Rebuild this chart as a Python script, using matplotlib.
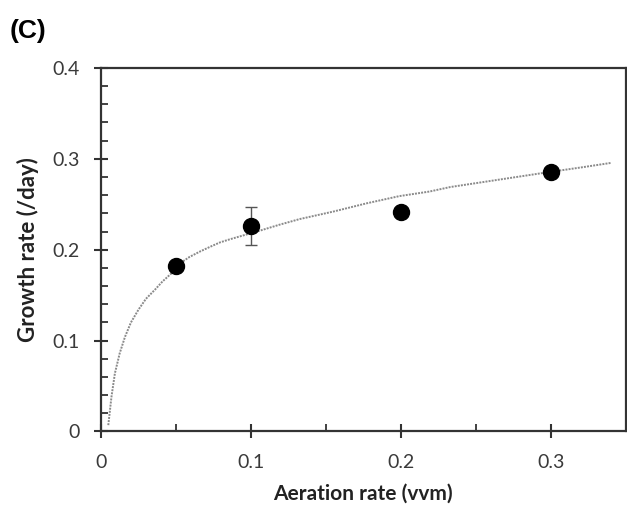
import matplotlib
matplotlib.use("Agg")
import matplotlib.pyplot as plt
from matplotlib.ticker import MultipleLocator

# measured points
aeration = [0.05, 0.1, 0.2, 0.3]
growth = [0.182, 0.226, 0.242, 0.285]
growth_err = [0, 0.021, 0, 0]

# fitted trend line
fit_x = [0.0049, 0.0070, 0.0093, 0.0125, 0.016, 0.020, 0.025, 0.030, 0.036,
         0.041, 0.047, 0.0527, 0.059, 0.066, 0.0725, 0.0793, 0.086, 0.0927,
         0.106, 0.119, 0.1327, 0.155, 0.177, 0.199, 0.219, 0.233, 0.255,
         0.277, 0.299, 0.320, 0.340]
fit_y = [0.007, 0.038, 0.064, 0.086, 0.104, 0.120, 0.134, 0.146, 0.156,
         0.165, 0.174, 0.185, 0.192, 0.198, 0.203, 0.208, 0.2115, 0.2147,
         0.221, 0.2275, 0.2338, 0.242, 0.251, 0.259, 0.264, 0.269, 0.2745,
         0.280, 0.2855, 0.2905, 0.2955]

xticks = [0, 0.1, 0.2, 0.3]
xtick_labels = ['0', '0.1', '0.2', '0.3']
yticks = [0, 0.1, 0.2, 0.3, 0.4]
ytick_labels = ['0', '0.1', '0.2', '0.3', '0.4']

fig = plt.figure(figsize=(6.27, 5.08), dpi=100)
ax = fig.add_axes([0.161, 0.1506, 0.837, 0.7156])

ax.plot(fit_x, fit_y, color='#8a8a8a', linestyle=(0, (1, 0.6)), linewidth=1.4, zorder=2)
ax.errorbar(aeration, growth, yerr=growth_err, fmt='o', color='black',
            markersize=11.5, ecolor='#555555', elinewidth=1, capsize=4, capthick=1, zorder=3)

ax.set_xlim(0, 0.35)
ax.set_ylim(0, 0.4)
ax.set_xticks(xticks)
ax.set_xticklabels(xtick_labels)
ax.set_yticks(yticks)
ax.set_yticklabels(ytick_labels)
ax.xaxis.set_minor_locator(MultipleLocator(0.05))
ax.yaxis.set_minor_locator(MultipleLocator(0.02))

ax.tick_params(which='major', direction='inout', length=10, width=1.5, color='#333333',
               labelsize=14, labelcolor='#3a3a3a')
ax.tick_params(axis='x', which='major', pad=11)
ax.tick_params(axis='y', which='major', pad=10)
ax.tick_params(which='minor', direction='in', length=5, width=1.3, color='#333333')
for lab in ax.get_xticklabels() + ax.get_yticklabels():
    lab.set_family('Lato')

for s in ax.spines.values():
    s.set_linewidth(1.6)
    s.set_color('#333333')

ax.set_xlabel('Aeration rate (vvm)', fontsize=15, fontweight='bold', family='Lato',
              color='#222222', labelpad=9)
ax.set_ylabel('Growth rate (/day)', fontsize=16, fontweight='bold', family='Lato',
              color='#222222', labelpad=10)

fig.text(0.015, 0.925, '(C)', fontsize=19, fontweight='bold', family='Liberation Sans')

fig.savefig('out.png', dpi=100)
